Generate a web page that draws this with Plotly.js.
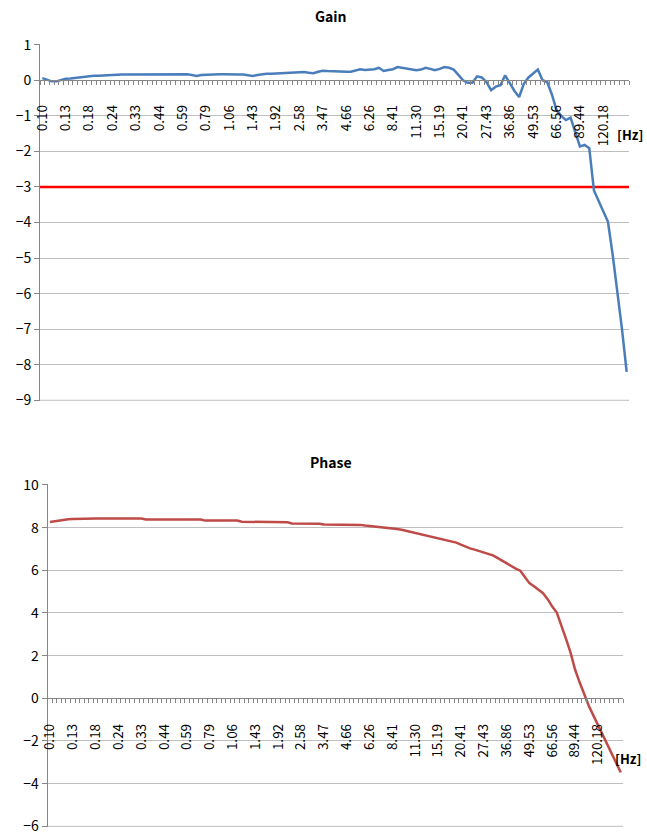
<!DOCTYPE html>
<html>
<head>
<meta charset="utf-8">
<script src="https://cdn.plot.ly/plotly-3.0.1.min.js"></script>
<style>
html,body{margin:0;padding:0;background:#fff;}
#chart{width:647px;height:834px;}
</style>
</head>
<body>
<div id="chart"></div>
<script>
// Frequency tick labels (one label every 5 samples)
const freqLabels = ['0.10','0.13','0.18','0.24','0.33','0.44','0.59','0.79','1.06','1.43','1.92','2.58','3.47','4.66','6.26','8.41','11.30','15.19','20.41','27.43','36.86','49.53','66.56','89.44','120.18'];
const samplesPerLabel = 5;

// Gain values (dB)
const gain = [
  0.06, 0.02, -0.03, -0.03, 0.01, 0.04, 0.05, 0.07, 0.09, 0.11,
  0.12, 0.13, 0.13, 0.14, 0.14, 0.15, 0.15, 0.16, 0.16, 0.16,
  0.16, 0.17, 0.17, 0.18, 0.17, 0.17, 0.17, 0.17, 0.16, 0.17,
  0.17, 0.17, 0.15, 0.12, 0.15, 0.16, 0.16, 0.16, 0.17, 0.17,
  0.16, 0.17, 0.16, 0.16, 0.15, 0.12, 0.15, 0.17, 0.18, 0.18,
  0.19, 0.20, 0.19, 0.21, 0.23, 0.24, 0.23, 0.21, 0.20, 0.24,
  0.27, 0.26, 0.25, 0.26, 0.25, 0.24, 0.24, 0.28, 0.31, 0.29,
  0.29, 0.31, 0.35, 0.26, 0.29, 0.31, 0.37, 0.35, 0.32, 0.31,
  0.28, 0.30, 0.35, 0.32, 0.28, 0.32, 0.37, 0.35, 0.30, 0.15,
  0.00, -0.07, -0.07, 0.11, 0.08, -0.05, -0.28, -0.18, -0.14, 0.14,
  -0.10, -0.30, -0.47, -0.10, 0.08, 0.20, 0.30, 0.00, -0.05, -0.40,
  -0.84, -1.00, -1.12, -1.05, -1.45, -1.86, -1.82, -1.91, -3.10, -3.40,
  -3.70, -3.98, -4.90, -5.90, -7.00, -8.20
];

// Phase values
const phase = [
  8.26, 8.30, 8.34, 8.37, 8.39, 8.41, 8.42, 8.43, 8.43, 8.43,
  8.43, 8.43, 8.43, 8.43, 8.43, 8.43, 8.43, 8.43, 8.43, 8.43,
  8.43, 8.38, 8.38, 8.38, 8.38, 8.38, 8.38, 8.38, 8.38, 8.38,
  8.38, 8.38, 8.38, 8.38, 8.33, 8.33, 8.33, 8.33, 8.33, 8.33,
  8.33, 8.33, 8.28, 8.28, 8.28, 8.28, 8.28, 8.28, 8.25, 8.25,
  8.25, 8.25, 8.25, 8.20, 8.20, 8.20, 8.18, 8.18, 8.18, 8.18,
  8.15, 8.15, 8.15, 8.15, 8.13, 8.13, 8.13, 8.13, 8.13, 8.10,
  8.08, 8.05, 8.03, 8.00, 7.98, 7.96, 7.94, 7.90, 7.85, 7.80,
  7.76, 7.72, 7.67, 7.62, 7.57, 7.52, 7.47, 7.40, 7.35, 7.30,
  7.20, 7.10, 7.03, 6.97, 6.90, 6.83, 6.76, 6.70, 6.58, 6.45,
  6.30, 6.20, 6.08, 5.98, 5.70, 5.40, 5.25, 5.10, 4.93, 4.65,
  4.30, 4.02, 3.45, 2.80, 2.15, 1.35, 0.75, 0.15, -0.35, -0.80,
  -1.25, -1.72, -2.20, -2.65, -3.05, -3.47
];

// -3 dB reference line
const threshold = -3;

const idx = gain.map((_, i) => i);
const tickVals = freqLabels.map((_, k) => k * samplesPerLabel);
const xEdges = [idx[0] - 0.5, idx[idx.length - 1] + 0.5];

const W = 647, H = 834;
const FONT = '"Noto Sans CJK KR", "Noto Sans", "DejaVu Sans", sans-serif';
const GRID = '#bfbfbf';
const AXIS = '#868686';

function px2fx(p){ return p / W; }
function py2fy(p){ return 1 - p / H; }

// plot areas (pixels)
const g = {l:40, r:629, t:44, b:401, ymin:-9, ymax:1};
const p = {l:47.7, r:623, t:484.3, b:827, ymin:-6, ymax:10};

function zeroPos(a){
  const d0 = py2fy(a.b), d1 = py2fy(a.t);
  return d0 + (0 - a.ymin) / (a.ymax - a.ymin) * (d1 - d0);
}

function xaxisCfg(a){
  return {
    domain:[px2fx(a.l), px2fx(a.r)],
    anchor:'free',
    position: zeroPos(a),
    range:xEdges,
    showgrid:false, zeroline:false,
    showline:true, linecolor:AXIS, linewidth:1,
    tickmode:'array', tickvals:tickVals, ticktext:freqLabels,
    ticks:'outside', ticklen:19, tickcolor:'rgba(0,0,0,0)',
    tickangle:-90,
    ticklabeloverflow:'allow',
    tickfont:{family:FONT, size:13.5, color:'#000'},
    minor:{tickmode:'linear', tick0:0.5, dtick:1, ticks:'outside', ticklen:4, tickcolor:AXIS, tickwidth:1, showgrid:false},
    fixedrange:true
  };
}

function yaxisCfg(a, dtick){
  const eps = 0.002 * (a.ymax - a.ymin);
  return {
    domain:[py2fy(a.b), py2fy(a.t)],
    range:[a.ymin - eps, a.ymax + eps],
    dtick:dtick, tick0:0,
    showgrid:true, gridcolor:GRID, gridwidth:1,
    zeroline:false,
    showline:true, linecolor:AXIS, linewidth:1,
    ticks:'outside', ticklen:5, tickcolor:AXIS,
    ticklabeloverflow:'allow',
    tickfont:{family:FONT, size:14, color:'#000'},
    fixedrange:true
  };
}

const traces = [
  {x:xEdges, y:[threshold, threshold], xaxis:'x', yaxis:'y', type:'scatter', mode:'lines',
   line:{color:'#ff0000', width:2.5}, hoverinfo:'skip', cliponaxis:false},
  {x:idx, y:gain, xaxis:'x', yaxis:'y', type:'scatter', mode:'lines',
   line:{color:'#4a7ebb', width:2.5}, hoverinfo:'skip'},
  {x:idx, y:phase, xaxis:'x2', yaxis:'y2', type:'scatter', mode:'lines',
   line:{color:'#be4b48', width:2.5}, hoverinfo:'skip'}
];

const ya1 = yaxisCfg(g, 1); ya1.anchor = 'x';
const ya2 = yaxisCfg(p, 2); ya2.anchor = 'x2';

const layout = {
  width:W, height:H,
  margin:{l:0, r:0, t:0, b:0},
  paper_bgcolor:'#fff', plot_bgcolor:'rgba(0,0,0,0)',
  showlegend:false,
  xaxis:xaxisCfg(g), yaxis:ya1,
  xaxis2:xaxisCfg(p), yaxis2:ya2,
  shapes:[
    {type:'line', xref:'x domain', yref:'y', x0:0, x1:1, y0:g.ymin, y1:g.ymin,
     line:{color:GRID, width:1}, layer:'below'},
    {type:'line', xref:'x2 domain', yref:'y2', x0:0, x1:1, y0:p.ymin, y1:p.ymin,
     line:{color:GRID, width:1}, layer:'below'}
  ],
  annotations:[
    {text:'<b>Gain</b>', xref:'paper', yref:'paper', x:px2fx(331), y:py2fy(16),
     xanchor:'center', yanchor:'middle', showarrow:false, font:{family:FONT, size:14, color:'#000'}},
    {text:'<b>Phase</b>', xref:'paper', yref:'paper', x:px2fx(331), y:py2fy(462),
     xanchor:'center', yanchor:'middle', showarrow:false, font:{family:FONT, size:14, color:'#000'}},
    {text:'<b>[Hz]</b>', xref:'paper', yref:'paper', x:px2fx(615), y:py2fy(134),
     xanchor:'left', yanchor:'middle', showarrow:false, font:{family:FONT, size:13, color:'#000'}},
    {text:'<b>[Hz]</b>', xref:'paper', yref:'paper', x:px2fx(613), y:py2fy(758),
     xanchor:'left', yanchor:'middle', showarrow:false, font:{family:FONT, size:13, color:'#000'}}
  ]
};

Plotly.newPlot('chart', traces, layout, {staticPlot:true, displayModeBar:false});
</script>
</body>
</html>
